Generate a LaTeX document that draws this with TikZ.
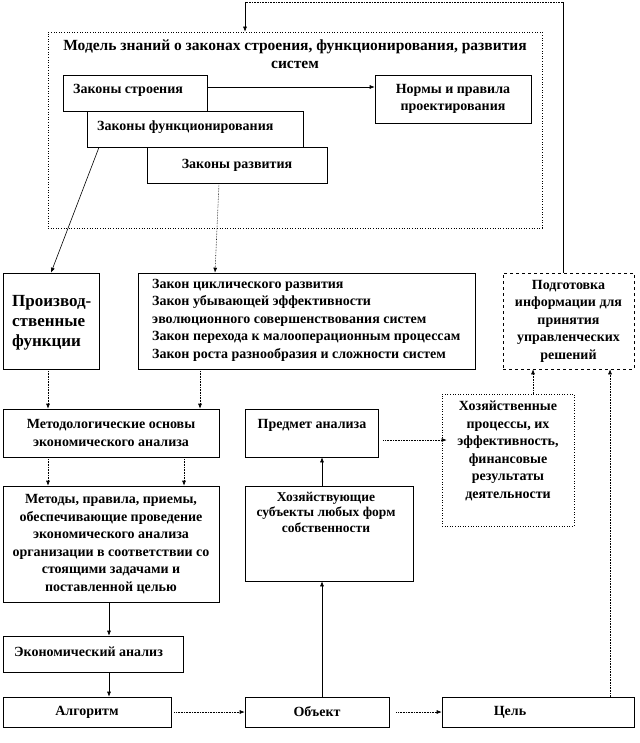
\documentclass[tikz,border=0pt]{standalone}
\usepackage{fontspec}
\setmainfont{Liberation Serif}
\usetikzlibrary{arrows.meta}
\newcommand\fntA{\bfseries\fontsize{14}{17.5}\selectfont}
\newcommand\fntB{\bfseries\fontsize{17}{20}\selectfont}
\newcommand\fntC{\bfseries\fontsize{13.5}{15.5}\selectfont}
\newcommand\fntT{\bfseries\fontsize{15.5}{18}\selectfont}
\begin{document}
\begin{tikzpicture}[x=1pt,y=-1pt,
  box/.style={draw, line width=0.6pt, fill=white, inner sep=0pt, align=center, font=\fntA},
  txt/.style={inner sep=0pt, font=\fntA},
  arr/.style={line width=0.6pt, -{Latex[length=5pt,width=4pt]}},
  darr/.style={arr, densely dotted},
  dline/.style={line width=0.6pt, densely dotted},
  sline/.style={line width=0.6pt}]
\useasboundingbox (0,0) rectangle (639,743);
% top model box
\node[box, dotted, minimum width=494pt, minimum height=196pt] (model) at (295,130) {};
\node[txt, align=center, font=\fntT] (modelt) at (295,54) {Модель знаний о законах строения, функционирования, развития\\систем};
\node[box, minimum width=144pt, minimum height=36pt] (zs) at (135,93) {};
\node[txt, anchor=west] (zst) at (73,90) {Законы строения};
\node[box, minimum width=216pt, minimum height=36pt] (zf) at (195,129) {};
\node[txt, anchor=west] (zft) at (97,127) {Законы функционирования};
\node[box, minimum width=180pt, minimum height=36pt] (zr) at (237,165) {Законы развития};
\node[box, minimum width=156pt, minimum height=48pt] (norms) at (453,99) {Нормы и правила\\проектирования};
% middle row
\node[box, minimum width=96pt, minimum height=96pt] (prod) at (51,321) {};
\node[txt, anchor=west, align=left, font=\fntB] (prodt) at (12,323) {Производ-\\ственные\\функции};
\node[box, minimum width=337pt, minimum height=96pt] (laws) at (306.5,321) {};
\node[txt, anchor=west, align=left] (lawst) at (152,320) {Закон циклического развития\\Закон убывающей эффективности\\эволюционного совершенствования систем\\Закон перехода к малооперационным процессам\\Закон роста разнообразия и сложности систем};
\node[box, dashed, minimum width=131pt, minimum height=96pt] (prep) at (568.5,321) {Подготовка\\информации для\\принятия\\управленческих\\решений};
% lower
\node[box, minimum width=216pt, minimum height=48pt] (metod) at (111,433) {Методологические основы\\экономического анализа};
\node[box, minimum width=216pt, minimum height=116pt] (methods) at (111,544) {Методы, правила, приемы,\\обеспечивающие проведение\\экономического анализа\\организации в соответствии со\\стоящими задачами и\\поставленной целью};
\node[box, minimum width=133pt, minimum height=48pt] (subj) at (311.5,433) {};
\node[txt] (subjt) at (312,425) {Предмет анализа};
\node[box, dotted, minimum width=132pt, minimum height=132pt] (hozproc) at (508,460) {};
\node[txt, align=center] (hozproct) at (508,451) {Хозяйственные\\процессы, их\\эффективность,\\финансовые\\результаты\\деятельности};
\node[box, minimum width=168pt, minimum height=95pt] (hozsubj) at (329,533.5) {};
\node[txt, align=center, font=\fntC] (hozsubjt) at (326,512) {Хозяйствующие\\субъекты любых форм\\собственности};
\node[box, minimum width=180pt, minimum height=36pt] (econ) at (93,654) {};
\node[txt, anchor=west] (econt) at (14,652) {Экономический анализ};
\node[box, minimum width=168pt, minimum height=30pt] (alg) at (87,712) {Алгоритм};
\node[box, minimum width=144pt, minimum height=30pt] (obj) at (317,712) {Объект};
\node[box, minimum width=192pt, minimum height=30pt] (goal) at (538,712) {};
\node[txt] (goalt) at (510,712) {Цель};
% connectors
\coordinate (c1) at (563,2);
\coordinate (c2) at (245,2);
\draw[sline] (c1 |- prep.north) -- (c1);
\draw[dline] (c1) -- (c2);
\draw[arr] (c2) -- (c2 |- model.north);
\draw[arr] ([yshift=6pt]zs.east) -- ([yshift=6pt]zs.east -| norms.west);
\draw[arr] ([xshift=-96pt]zf.south) -- (prod.north);
\draw[darr] ([xshift=-18pt]zr.south) -- ([xshift=-91.5pt]laws.north);
\draw[darr] ([xshift=-3pt]prod.south) -- ([xshift=-3pt]prod.south |- metod.north);
\draw[darr] ([xshift=-106.5pt]laws.south) -- ([xshift=-106.5pt]laws.south |- metod.north);
\draw[darr] ([xshift=-63pt]metod.south) -- ([xshift=-63pt]metod.south |- methods.north);
\draw[darr] ([xshift=73pt]metod.south) -- ([xshift=73pt]metod.south |- methods.north);
\draw[arr] ([xshift=-2pt]methods.south) -- ([xshift=-2pt]methods.south |- econ.north);
\draw[arr] ([xshift=16pt]econ.south) -- ([xshift=16pt]econ.south |- alg.north);
\draw[darr] ([xshift=3pt]alg.east) -- (obj.west);
\draw[darr] ([xshift=7pt]obj.east) -- (goal.west);
\draw[arr] ([xshift=5pt]obj.north) -- ([xshift=5pt]obj.north |- hozsubj.south);
\draw[arr] ([xshift=-7pt]hozsubj.north) -- ([xshift=-7pt]hozsubj.north |- subj.south);
\draw[darr] ([yshift=-7pt,xshift=5pt]subj.east) -- ([yshift=-7pt,xshift=5pt]subj.east -| hozproc.west);
\draw[darr] ([xshift=25pt]hozproc.north) -- ([xshift=25pt]hozproc.north |- prep.south);
\draw[darr] ([xshift=72pt]goal.north) -- ([xshift=72pt]goal.north |- prep.south);
\end{tikzpicture}
\end{document}
